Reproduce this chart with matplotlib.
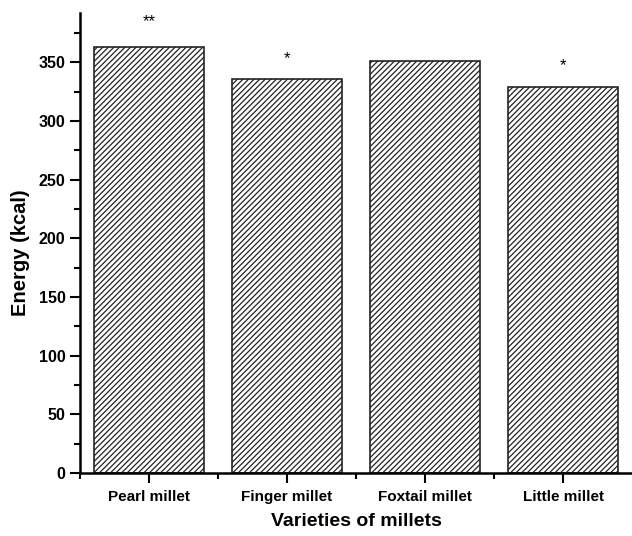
import matplotlib
matplotlib.use("Agg")
import matplotlib.pyplot as plt
from matplotlib.ticker import MultipleLocator, FixedLocator

# Datos
varieties = ["Pearl millet", "Finger millet", "Foxtail millet", "Little millet"]
energy = [363, 336, 351, 329]
marks = ["**", "*", "", "*"]
mark_y = [385, 353, 0, 347]

plt.rcParams["font.family"] = ["Liberation Sans", "DejaVu Sans"]
plt.rcParams["hatch.linewidth"] = 0.9

fig = plt.figure(figsize=(6.32, 5.36), dpi=100)
ax = fig.add_axes([0.1266, 0.1175, 0.8734, 0.8582])

x = list(range(1, len(varieties) + 1))
ax.bar(x, energy, width=0.8, color="white", edgecolor="#222222",
       linewidth=1.2, hatch="//////")

# Marcas de significancia
for xi, m, my in zip(x, marks, mark_y):
    if m:
        ax.text(xi, my, m, ha="center", va="center", fontsize=12)

ax.set_xlim(0.5, 4.5)
ax.set_ylim(0, 392)
ax.set_xticks(x)
ax.set_xticklabels(varieties, fontsize=11, fontweight="bold")
ax.xaxis.set_minor_locator(FixedLocator([0.5, 1.5, 2.5, 3.5]))
ax.yaxis.set_major_locator(MultipleLocator(50))
ax.yaxis.set_minor_locator(MultipleLocator(25))
for lab in ax.get_yticklabels():
    lab.set_fontweight("bold")
    lab.set_fontsize(11.5)

ax.tick_params(which="major", direction="out", length=7, width=1.5)
ax.tick_params(which="minor", direction="out", length=4, width=1.5)
ax.tick_params(axis="x", pad=5)

for side in ["top", "right"]:
    ax.spines[side].set_visible(False)
for side in ["left", "bottom"]:
    ax.spines[side].set_linewidth(1.8)

ax.set_xlabel("Varieties of millets", fontsize=14, fontweight="bold", labelpad=7)
ax.set_ylabel("Energy (kcal)", fontsize=14.5, fontweight="bold")
ax.yaxis.set_label_coords(-0.091, 0.48)

fig.savefig("out.png", dpi=100)
